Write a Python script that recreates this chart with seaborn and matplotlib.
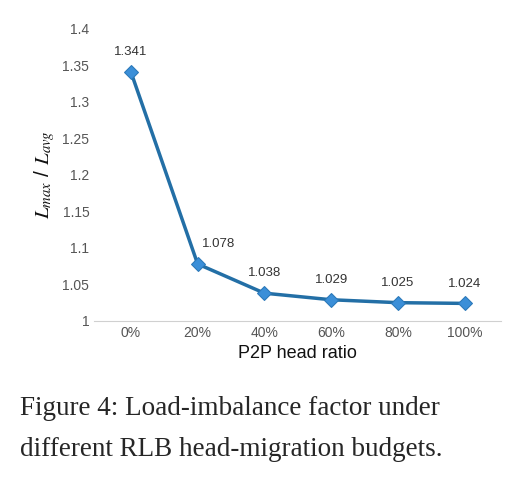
import matplotlib
matplotlib.use("Agg")
import matplotlib.pyplot as plt
import seaborn as sns
import pandas as pd

ratios = ["0%", "20%", "40%", "60%", "80%", "100%"]
values = [1.341, 1.078, 1.038, 1.029, 1.025, 1.024]
labels = ["1.341", "1.078", "1.038", "1.029", "1.025", "1.024"]

sns.set_style("white")
plt.rcParams['font.family'] = ['Liberation Sans', 'DejaVu Sans']
plt.rcParams['mathtext.fontset'] = 'stix'

fig = plt.figure(figsize=(5.09, 4.79), dpi=100)
ax = fig.add_axes([0.185, 0.33, 0.80, 0.61])
df = pd.DataFrame({"x": range(len(ratios)), "y": values})
sns.lineplot(data=df, x="x", y="y", ax=ax, color="#236fa6", linewidth=2.5,
             marker="D", markersize=7, markerfacecolor="#3b8fd8",
             markeredgecolor="#2a78b8")
for i, (v, t) in enumerate(zip(values, labels)):
    dx = 0.25 if i == 1 else 0
    ax.annotate(t, (i, v), xytext=(dx * 60, 10), textcoords="offset points",
                ha="center", va="bottom", fontsize=9.5, color="#333333")
ax.set_xlim(-0.55, 5.55)
ax.set_ylim(1, 1.4)
ax.set_yticks([1, 1.05, 1.1, 1.15, 1.2, 1.25, 1.3, 1.35, 1.4])
ax.set_yticklabels(["1", "1.05", "1.1", "1.15", "1.2", "1.25", "1.3", "1.35", "1.4"])
ax.set_xticks(range(len(ratios)))
ax.set_xticklabels(ratios)
ax.tick_params(labelsize=10, colors="#555555", length=0)
for s in ["top", "right", "left"]:
    ax.spines[s].set_visible(False)
ax.spines["bottom"].set_color("#d0d0d0")
ax.set_xlabel("P2P head ratio", fontsize=13, color="#111111")
ax.set_ylabel(r"$L_{max}$ / $L_{avg}$", fontsize=15, color="#111111")
fig.text(0.04, 0.148, "Figure 4: Load-imbalance factor under", fontsize=19.5,
         family="Liberation Serif", va="center")
fig.text(0.04, 0.062, "different RLB head-migration budgets.", fontsize=19.5,
         family="Liberation Serif", va="center")
fig.savefig("out.png", dpi=100)
